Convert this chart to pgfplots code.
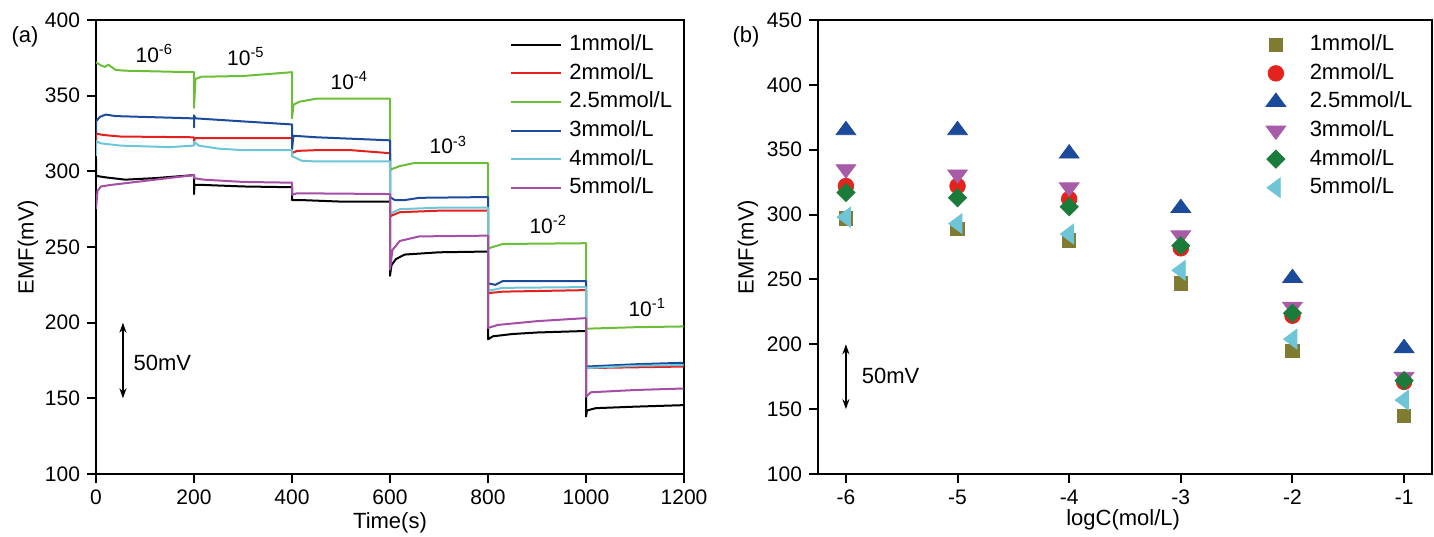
\documentclass[border=0pt]{standalone}
\usepackage{fontspec}
\setmainfont{Liberation Sans}
\usepackage{pgfplots}
\pgfplotsset{compat=1.18}
\usetikzlibrary{arrows.meta}

\definecolor{cred}{HTML}{E3201C}
\definecolor{cgreen}{HTML}{6BBE37}
\definecolor{cblue}{HTML}{1D4B9C}
\definecolor{ccyan}{HTML}{6DC6D8}
\definecolor{cpurple}{HTML}{A54EA5}
\definecolor{molive}{HTML}{7F7B30}
\definecolor{mred}{HTML}{E5231E}
\definecolor{mblue}{HTML}{1C4A9A}
\definecolor{mpurple}{HTML}{A85CA8}
\definecolor{mgreen}{HTML}{1B7B3B}
\definecolor{mcyan}{HTML}{6EC5D7}

\pgfplotsset{
  panel/.style={
    scale only axis, height=227bp, anchor=south west,
    axis line style={line width=1bp},
    tick pos=left, tick align=outside,
    major tick length=4.5bp,
    major tick style={line width=1bp,black},
    tick label style={font=\fontsize{10.5bp}{12bp}\selectfont},
    label style={font=\fontsize{11bp}{13bp}\selectfont},
    /pgf/number format/assume math mode=true,
    /pgf/number format/1000 sep={},
    legend cell align=left,
    legend style={draw=none,fill=none,anchor=north west,inner sep=0pt,
      row sep=1.3bp,font=\fontsize{11bp}{13bp}\selectfont,
      nodes={inner xsep=3.5bp,inner ysep=1bp,text height=8.5bp,text depth=2.5bp}},
  },
  trace/.style={line width=1bp,line join=round,#1},
  pt/.style={only marks,#1},
}
\newcommand{\ann}{\fontsize{10.5bp}{12bp}\selectfont}
\tikzset{conc/.style={anchor=base west,inner sep=0pt,font=\ann}}

\begin{document}
\begin{tikzpicture}
\path[use as bounding box] (0,0) rectangle (717bp,268.5bp);

% (a) potential vs time
\begin{axis}[panel,
  at={(48bp,31.5bp)}, width=294bp,
  xmin=0,xmax=1200,ymin=100,ymax=400,
  xtick={0,200,...,1200},ytick={100,150,...,400},
  xlabel={Time(s)},ylabel={EMF(mV)},
  xlabel style={at={(axis description cs:0.5,-0.108)},anchor=center},
  ylabel style={at={(axis description cs:-0.1156,0.5)},anchor=center},
  legend style={at={(0.704,0.975)}},
  legend image code/.code={\draw[#1] (0bp,0bp) -- (25bp,0bp);},
]
\addplot[trace=black] coordinates {(0,308) (0,297) (20,296) (60,294.5) (120,295.5) (199,297.5) (200,297.5) (200,285) (201,291) (220,291) (300,290) (399,289.5) (400,289.5) (400,281) (420,281) (500,280) (599,280) (600,280) (600,231) (603,238) (612,242) (630,245) (700,246.5) (799,247) (800,247) (800,189) (810,191) (850,192.5) (900,193.5) (999,194.5) (1000,194.5) (1000,138) (1002,142) (1020,143.5) (1100,144.5) (1199,145.5)};
\addlegendentry{1mmol/L}
\addplot[trace=cred] coordinates {(0,318) (0,325) (15,324) (50,323) (199,322.5) (200,322) (200,320) (202,322) (399,322) (400,322) (400,312) (410,313.5) (450,314) (520,314) (599,312) (600,312) (600,270) (605,271) (620,273) (700,274) (799,274) (800,274) (800,219.5) (830,220.5) (999,221.5) (1000,221.5) (1000,170) (1100,170.5) (1199,171)};
\addlegendentry{2mmol/L}
\addplot[trace=cgreen] coordinates {(0,372) (10,370) (18,369) (25,370.5) (40,367) (60,366.5) (199,365.5) (200,365.5) (200,342) (203,361) (215,362.5) (300,363) (399,365.5) (400,365.5) (400,335) (403,344) (415,346) (450,348) (599,348) (600,348) (600,301) (620,303.5) (650,305.5) (799,305.5) (800,305.5) (800,249) (810,250) (830,252) (999,252.5) (1000,252.5) (1000,196) (1100,197) (1199,197.5)};
\addlegendentry{2.5mmol/L}
\addplot[trace=cblue] coordinates {(0,325) (0,333) (8,336) (20,337.5) (40,336.5) (199,335) (200,335) (200,329) (200,337) (203,335) (300,333) (399,331) (400,331) (400,315) (403,323.5) (450,322.5) (599,320.5) (600,320.5) (600,283) (610,281) (630,281) (660,282.5) (799,283) (800,283) (800,226) (815,225) (830,227.5) (999,227.5) (1000,227.5) (1000,171) (1100,172.5) (1199,173.5)};
\addlegendentry{3mmol/L}
\addplot[trace=ccyan] coordinates {(0,310) (0,320) (10,318.5) (50,317) (150,316) (199,317) (200,317) (200,319.5) (210,317) (250,315) (300,314) (399,314) (400,314) (400,310) (420,307) (450,306.5) (599,306.5) (600,306.5) (600,272) (620,275) (700,276) (799,276) (800,276) (800,221) (830,223) (999,223.5) (1000,223.5) (1000,170) (1100,171.5) (1199,172)};
\addlegendentry{4mmol/L}
\addplot[trace=cpurple] coordinates {(0,275) (3,287) (10,290) (30,291) (199,297.5) (200,297.5) (200,295.5) (220,294.5) (300,293) (399,292.5) (400,292.5) (400,284.5) (410,285.5) (599,285) (600,285) (600,235) (605,248) (620,254) (660,257) (799,257.5) (800,257.5) (800,196.5) (820,198.5) (900,201) (999,203) (1000,203) (1000,151) (1010,154) (1100,155.5) (1199,156.5)};
\addlegendentry{5mmol/L}

\node[conc] at (axis cs:80,372) {10\textsuperscript{-6}};
\node[conc] at (axis cs:267,370) {10\textsuperscript{-5}};
\node[conc] at (axis cs:478,354) {10\textsuperscript{-4}};
\node[conc] at (axis cs:680,311.5) {10\textsuperscript{-3}};
\node[conc] at (axis cs:884,259) {10\textsuperscript{-2}};
\node[conc] at (axis cs:1086,204) {10\textsuperscript{-1}};
\draw[line width=1bp,{Stealth[length=5bp,width=3.5bp]}-{Stealth[length=5bp,width=3.5bp]}] (axis cs:55,200) -- (axis cs:55,150);
\node[anchor=west,inner sep=0pt,font=\fontsize{11bp}{13bp}\selectfont] at (axis cs:76,173.5) {50mV};
\end{axis}

% (b) potential vs log concentration
\begin{axis}[panel,
  at={(409bp,31.5bp)}, width=307bp,
  xmin=-6.25,xmax=-0.75,ymin=100,ymax=450,
  xtick={-6,-5,-4,-3,-2,-1},ytick={100,150,...,450},
  xlabel={logC(mol/L)},ylabel={EMF(mV)},
  xlabel style={at={(axis description cs:0.497,-0.1)},anchor=center},
  ylabel style={at={(axis description cs:-0.114,0.5)},anchor=center},
  legend style={at={(0.729,0.975)},/tikz/every odd column/.append style={column sep=8.5bp}},
  legend image code/.code={\draw[#1] plot coordinates {(0bp,0bp)};},
]
\addplot[pt,mark=square*,mark size=3.35bp,color=molive] coordinates {(-6,297) (-5,289) (-4,280) (-3,247) (-2,195) (-1,145)};
\addlegendentry{1mmol/L}
\addplot[pt,mark=*,mark size=3.9bp,color=mred] coordinates {(-6,322) (-5,322) (-4,312) (-3,274) (-2,222) (-1,171)};
\addlegendentry{2mmol/L}
\addplot[pt,mark=triangle*,mark size=5.7bp,mark options={yscale=0.78},color=mblue] coordinates {(-6,365) (-5,365) (-4,347) (-3,305) (-2,251) (-1,197)};
\addlegendentry{2.5mmol/L}
\addplot[pt,mark=triangle*,mark size=5.7bp,mark options={rotate=180,yscale=0.78},color=mpurple] coordinates {(-6,335) (-5,331) (-4,321) (-3,284) (-2,229) (-1,175)};
\addlegendentry{3mmol/L}
\addplot[pt,mark=square*,mark size=3.2bp,mark options={rotate=45},color=mgreen] coordinates {(-6,317) (-5,313) (-4,306) (-3,276) (-2,224) (-1,172)};
\addlegendentry{4mmol/L}
\addplot[pt,mark=triangle*,mark size=5.7bp,mark options={rotate=90,yscale=0.78},color=mcyan] coordinates {(-6,298) (-5,293) (-4,285) (-3,257) (-2,204) (-1,157)};
\addlegendentry{5mmol/L}

\draw[line width=1bp,{Stealth[length=5bp,width=3.5bp]}-{Stealth[length=5bp,width=3.5bp]}] (axis cs:-6,200) -- (axis cs:-6,150);
\node[anchor=west,inner sep=0pt,font=\fontsize{11bp}{13bp}\selectfont] at (axis cs:-5.86,175.5) {50mV};
\end{axis}

\node[font=\fontsize{11bp}{13bp}\selectfont] at (12.5bp,250bp) {(a)};
\node[font=\fontsize{11bp}{13bp}\selectfont] at (373bp,250bp) {(b)};
\end{tikzpicture}
\end{document}
